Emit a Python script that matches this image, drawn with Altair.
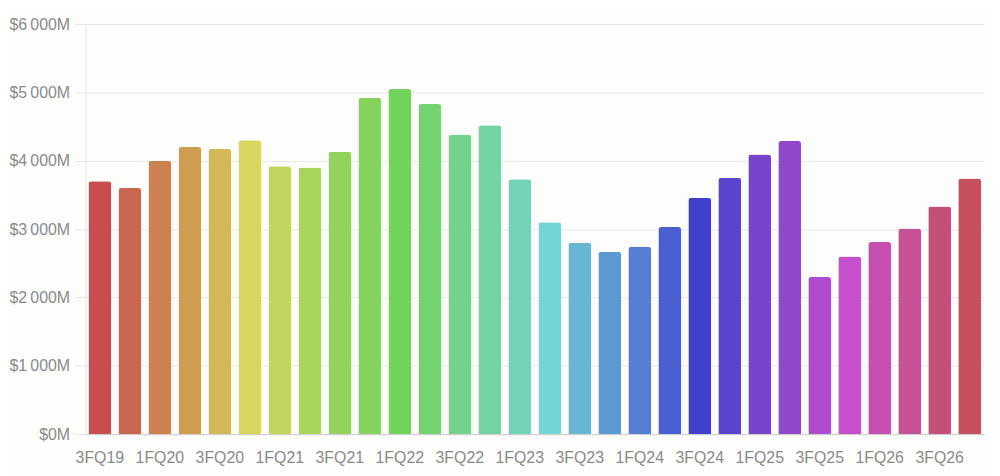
import altair as alt
import pandas as pd

quarters = ["3FQ19", "4FQ19",
            "1FQ20", "2FQ20", "3FQ20", "4FQ20",
            "1FQ21", "2FQ21", "3FQ21", "4FQ21",
            "1FQ22", "2FQ22", "3FQ22", "4FQ22",
            "1FQ23", "2FQ23", "3FQ23", "4FQ23",
            "1FQ24", "2FQ24", "3FQ24", "4FQ24",
            "1FQ25", "2FQ25", "3FQ25", "4FQ25",
            "1FQ26", "2FQ26", "3FQ26", "4FQ26"]

revenue = [3700, 3600,
           4000, 4200, 4170, 4300,
           3920, 3900, 4130, 4920,
           5050, 4830, 4380, 4520,
           3730, 3100, 2800, 2670,
           2740, 3030, 3460, 3750,
           4090, 4290, 2300, 2600,
           2810, 3010, 3330, 3740]

colors = ["#c84d4d", "#c9674e", "#cb8250", "#cf9d52", "#d3b858", "#d8d65c",
          "#bfd65c", "#a8d65c", "#93d35c", "#84d35c", "#72d35a", "#72d370",
          "#74d38a", "#74d3a2", "#72d3b9", "#74d4d6", "#68b6d4", "#5c99d2",
          "#547fd2", "#4a5fd0", "#4040cc", "#5a44cd", "#7844cc", "#8f48cc",
          "#ad4ccf", "#c64fcd", "#c54fb1", "#c55196", "#c54f7b", "#c75060"]

tick_labels = quarters[::2]

df = pd.DataFrame({"quarter": quarters, "revenue": revenue})

font = "Liberation Sans"

chart = alt.Chart(df).mark_bar(
    cornerRadiusTopLeft=3, cornerRadiusTopRight=3
).encode(
    x=alt.X("quarter:N", sort=None, title=None,
            scale=alt.Scale(paddingInner=0.24, paddingOuter=0.1),
            axis=alt.Axis(values=tick_labels, labelAngle=0, ticks=False,
                          labelFontSize=16, labelColor="#8a8a8a", labelFont=font,
                          labelPadding=16, domainColor="#cccccc", grid=False)),
    y=alt.Y("revenue:Q", title=None,
            scale=alt.Scale(domain=[0, 6000], nice=False),
            axis=alt.Axis(values=[0, 1000, 2000, 3000, 4000, 5000, 6000],
                          labelExpr='"$" + replace(format(datum.value, ","), ",", "\u2009") + "M"',
                          ticks=True, tickSize=11, tickColor="#e6e6e6",
                          labelFontSize=16, labelColor="#8a8a8a",
                          labelFont=font, labelPadding=5,
                          domainColor="#e4e4e4", gridColor="#e8e8e8")),
    color=alt.Color("quarter:N", sort=None, legend=None,
                    scale=alt.Scale(domain=quarters, range=colors)),
).properties(
    width=905, height=413,
    autosize=alt.AutoSizeParams(type="none"),
    padding={"left": 78, "top": 14.5, "right": 8, "bottom": 38},
    background="#fdfdfc",
).configure_view(stroke=None)

chart.save("out.html", embed_options={"renderer": "svg", "actions": False})
